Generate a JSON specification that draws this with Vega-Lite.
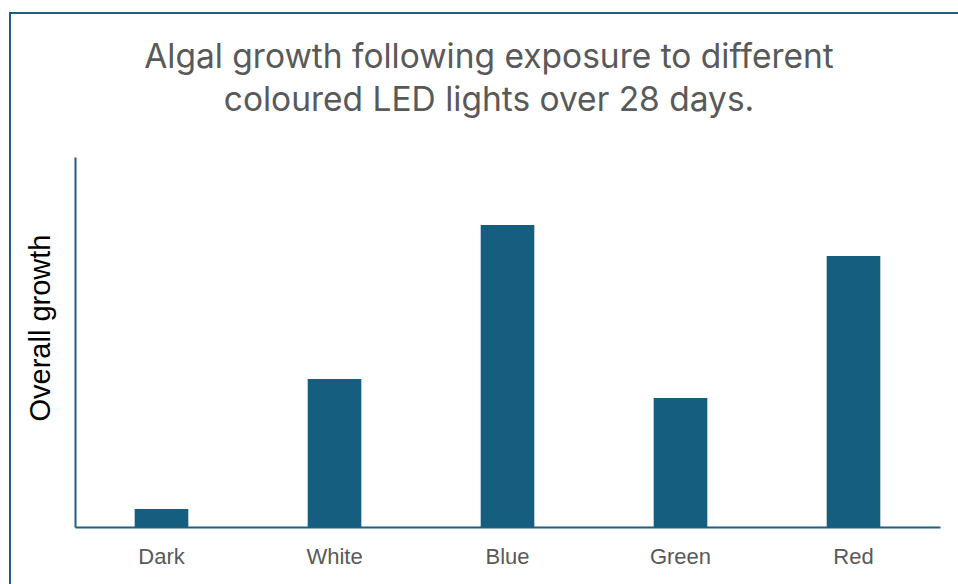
{
  "$schema": "https://vega.github.io/schema/vega-lite/v6.json",
  "autosize": {"type": "none"},
  "width": 950,
  "height": 575,
  "padding": {"left": 10, "top": 13, "right": 0, "bottom": 0},
  "background": "white",
  "title": {
    "text": ["Algal growth following exposure to different", "coloured LED lights over 28 days."],
    "font": "Inter",
    "fontSize": 33.5,
    "fontWeight": "normal",
    "color": "#595959",
    "lineHeight": 43,
    "anchor": "middle",
    "frame": "group",
    "dx": 4,
    "offset": -105
  },
  "data": {
    "values": [
      {"light": "Dark", "growth": 18},
      {"light": "White", "growth": 148},
      {"light": "Blue", "growth": 302},
      {"light": "Green", "growth": 129},
      {"light": "Red", "growth": 271}
    ]
  },
  "mark": {"type": "bar", "color": "#165e80"},
  "encoding": {
    "x": {
      "field": "light",
      "type": "nominal",
      "sort": null,
      "scale": {"range": [65, 930], "paddingInner": 0.69, "paddingOuter": 0.345},
      "axis": {
        "title": null,
        "offset": -61,
        "labelAngle": 0,
        "labelFont": "Liberation Sans",
        "labelFontSize": 22,
        "labelColor": "#595959",
        "labelPadding": 19.5,
        "ticks": false,
        "domainColor": "#1f5f80",
        "domainWidth": 2
      }
    },
    "y": {
      "field": "growth",
      "type": "quantitative",
      "scale": {"domain": [0, 370], "range": [514, 144]},
      "axis": {
        "title": "Overall growth",
        "offset": -65,
        "titleFont": "Liberation Sans",
        "titleFontSize": 29,
        "titleFontWeight": "normal",
        "titleColor": "#000000",
        "titlePadding": 20,
        "titleY": 314.5,
        "labels": false,
        "ticks": false,
        "grid": false,
        "domainColor": "#1f5f80",
        "domainWidth": 2
      }
    }
  },
  "config": {"view": {"stroke": "#1d5f82", "strokeWidth": 2}}
}
